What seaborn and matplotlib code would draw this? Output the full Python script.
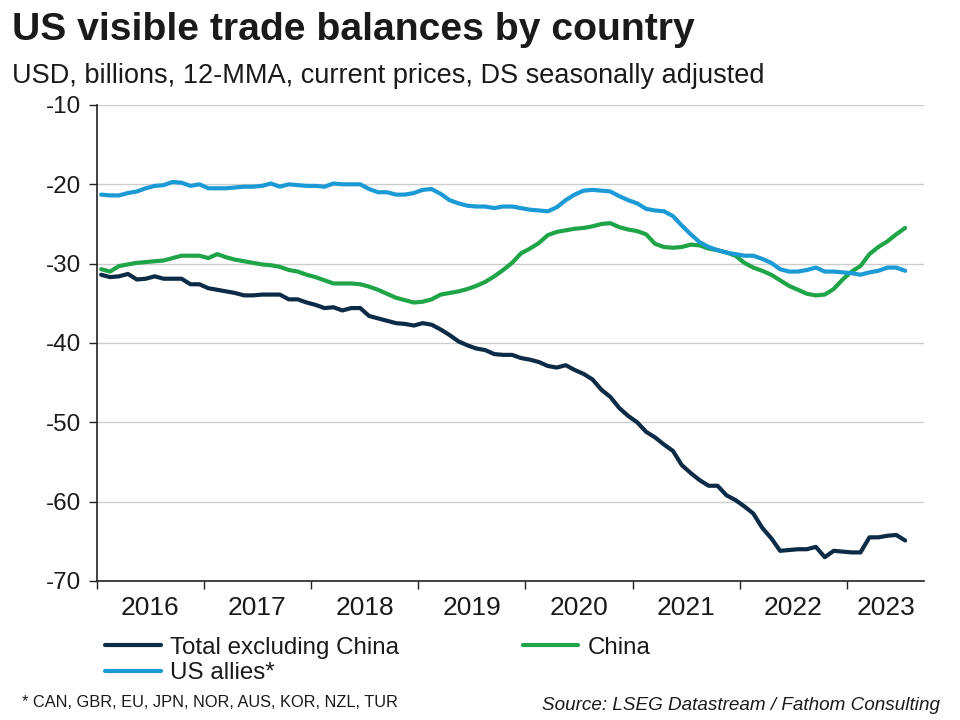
import numpy as np
import pandas as pd
import matplotlib
matplotlib.use("Agg")
import matplotlib.pyplot as plt
import seaborn as sns

# ---- data (USD bn, 12-MMA), monthly Jan 2016 .. Jul 2023 ----
months = pd.date_range("2016-01-01", periods=91, freq="MS")

total_ex_china = [
    -31.4, -31.7, -31.6, -31.3, -32.0, -31.9, -31.6, -31.9, -31.9, -31.9, -32.6, -32.6,
    -33.1, -33.3, -33.5, -33.7, -34.0, -34.0, -33.9, -33.9, -33.9, -34.5, -34.5, -34.9,
    -35.2, -35.6, -35.5, -35.9, -35.6, -35.6, -36.6, -36.9, -37.2, -37.5, -37.6, -37.8,
    -37.5, -37.7, -38.3, -39.0, -39.8, -40.3, -40.7, -40.9, -41.4, -41.5, -41.5, -41.9,
    -42.1, -42.4, -42.9, -43.1, -42.8, -43.4, -43.9, -44.6, -45.9, -46.8, -48.2, -49.2,
    -50.0, -51.2, -51.9, -52.8, -53.6, -55.4, -56.4, -57.3, -58.0, -58.0, -59.2, -59.8,
    -60.6, -61.5, -63.3, -64.6, -66.2, -66.1, -66.0, -66.0, -65.7, -67.0, -66.2, -66.3,
    -66.4, -66.4, -64.5, -64.5, -64.3, -64.2, -64.9,
]
china = [
    -30.7, -31.0, -30.3, -30.1, -29.9, -29.8, -29.7, -29.6, -29.3, -29.0, -29.0, -29.0,
    -29.3, -28.8, -29.2, -29.5, -29.7, -29.9, -30.1, -30.2, -30.4, -30.8, -31.0, -31.4,
    -31.7, -32.1, -32.5, -32.5, -32.5, -32.6, -32.9, -33.3, -33.8, -34.3, -34.6, -34.9,
    -34.8, -34.5, -33.9, -33.7, -33.5, -33.2, -32.8, -32.3, -31.6, -30.8, -29.9, -28.7,
    -28.1, -27.4, -26.4, -26.0, -25.8, -25.6, -25.5, -25.3, -25.0, -24.9, -25.4, -25.7,
    -25.9, -26.3, -27.5, -27.9, -28.0, -27.9, -27.6, -27.7, -28.1, -28.3, -28.6, -29.0,
    -29.9, -30.5, -30.9, -31.4, -32.1, -32.8, -33.3, -33.8, -34.0, -33.9, -33.2, -32.0,
    -31.0, -30.3, -28.8, -27.9, -27.2, -26.3, -25.5,
]
us_allies = [
    -21.3, -21.4, -21.4, -21.1, -20.9, -20.5, -20.2, -20.1, -19.7, -19.8, -20.2, -20.0,
    -20.5, -20.5, -20.5, -20.4, -20.3, -20.3, -20.2, -19.9, -20.3, -20.0, -20.1, -20.2,
    -20.2, -20.3, -19.9, -20.0, -20.0, -20.0, -20.6, -21.0, -21.0, -21.3, -21.3, -21.1,
    -20.7, -20.6, -21.2, -22.0, -22.4, -22.7, -22.8, -22.8, -23.0, -22.8, -22.8, -23.0,
    -23.2, -23.3, -23.4, -22.9, -22.0, -21.3, -20.8, -20.7, -20.8, -20.9, -21.5, -22.0,
    -22.4, -23.1, -23.3, -23.4, -24.0, -25.2, -26.3, -27.3, -27.9, -28.3, -28.6, -28.8,
    -29.0, -29.0, -29.4, -29.9, -30.7, -31.0, -31.0, -30.8, -30.5, -31.0, -31.0, -31.1,
    -31.2, -31.4, -31.1, -30.9, -30.5, -30.5, -30.9,
]

series_names = ["Total excluding China", "China", "US allies*"]
series_colors = ["#0c2b47", "#1fa447", "#1c9ad6"]
year_labels = ["2016", "2017", "2018", "2019", "2020", "2021", "2022", "2023"]
y_ticks = [-10, -20, -30, -40, -50, -60, -70]

# ---- frame ----
xnum = months.year + (months.month - 0.5) / 12.0
df = pd.DataFrame({
    "x": np.tile(xnum, 3),
    "value": total_ex_china + china + us_allies,
    "series": np.repeat(series_names, len(months)),
})

sns.set_theme(style="white")
plt.rcParams["font.family"] = ["Liberation Sans", "DejaVu Sans"]
TXT = "#1a1a1a"

fig = plt.figure(figsize=(9.6, 7.2), dpi=100)
ax = fig.add_axes([0.1007, 0.1931, 0.8621, 0.6611])

sns.lineplot(data=df, x="x", y="value", hue="series", hue_order=series_names,
             palette=dict(zip(series_names, series_colors)), linewidth=3.0,
             ax=ax, legend=False, sort=False)

x_left, x_right = 2016.0, 2023.72
ax.set_xlim(x_left, x_right)
ax.set_ylim(-70, -10)

ax.set_yticks(y_ticks)
ax.set_yticklabels([str(v) for v in y_ticks], fontsize=17.5, color=TXT)
ax.yaxis.grid(True, color="#cccccc", linewidth=1.0)
ax.xaxis.grid(False)

years = [int(y) for y in year_labels]
ax.set_xticks(years)
ax.set_xticklabels([])
centers = [y + 0.5 for y in years[:-1]] + [(years[-1] + x_right) / 2]
ax.set_xticks(centers, minor=True)
ax.set_xticklabels(year_labels, minor=True, fontsize=19, color=TXT)
ax.tick_params(axis="x", which="major", length=6, width=1, color="#222222", direction="out", bottom=True)
ax.tick_params(axis="x", which="minor", length=0, pad=11)
ax.tick_params(axis="y", which="major", length=6, width=1, color="#222222", direction="out", left=True, pad=5)

for s in ["top", "right"]:
    ax.spines[s].set_visible(False)
for s in ["left", "bottom"]:
    ax.spines[s].set_color("#222222")
    ax.spines[s].set_linewidth(1.2)
ax.set_xlabel("")
ax.set_ylabel("")

fig.text(0.0125, 0.958, "US visible trade balances by country", fontsize=28.2,
         fontweight="bold", color=TXT, va="center", ha="left")
fig.text(0.0125, 0.895, "USD, billions, 12-MMA, current prices, DS seasonally adjusted",
         fontsize=19.5, color=TXT, va="center", ha="left")

lines = ax.get_lines()[:3]
handles = [lines[0], lines[2], lines[1]]
labels = [series_names[0], series_names[2], series_names[1]]
fig.legend(handles, labels, loc="upper left", bbox_to_anchor=(0.1094, 0.1155),
           ncol=2, frameon=False, fontsize=17.4, handlelength=2.3, handletextpad=0.4,
           columnspacing=5.1, labelspacing=0.15, borderaxespad=0, borderpad=0,
           labelcolor=TXT)

fig.text(0.023, 0.024, "* CAN, GBR, EU, JPN, NOR, AUS, KOR, NZL, TUR", fontsize=11.75,
         color=TXT, va="center", ha="left")
fig.text(0.979, 0.02, "Source: LSEG Datastream / Fathom Consulting", fontsize=13.6,
         style="italic", color=TXT, va="center", ha="right")

fig.savefig("out.png", dpi=100)
